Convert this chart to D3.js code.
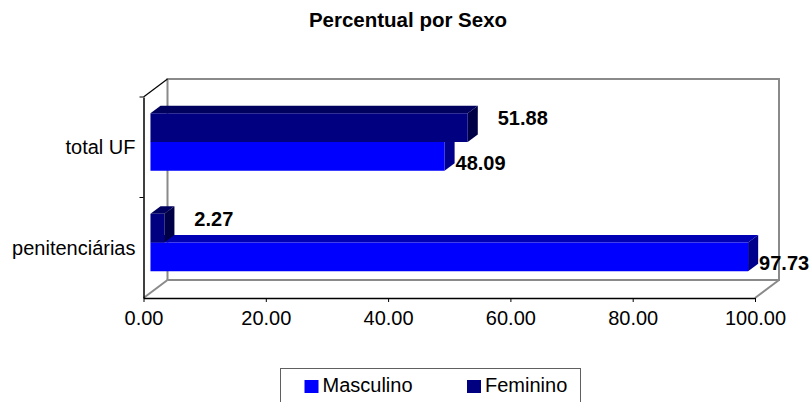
<!DOCTYPE html>
<html>
<head>
<meta charset="utf-8">
<script src="https://cdn.jsdelivr.net/npm/d3@7"></script>
<style>
  body { margin: 0; background: #fff; }
  svg { display: block; font-family: "Liberation Sans", Arial, sans-serif; }
</style>
</head>
<body>
<div id="chart"></div>
<script>
// data
const categories = ["penitenciárias", "total UF"];   // bottom to top
const seriesNames = ["Masculino", "Feminino"];
const masculino = [97.73, 48.09];
const feminino = [2.27, 51.88];
const xTicks = [0, 20, 40, 60, 80, 100];

const width = 812, height = 402;
const plot = { left: 143.5, right: 755, top: 97, bottom: 298 };
const depth = { dx: 24, dy: -18 };     // wall depth offset
const barFront = 0.29, barBack = 0.71;  // bar depth inside the wall

const faces = {
  Masculino: { front: "#0000ff", top: "#0000b4", side: "#00008c" },
  Feminino:  { front: "#000080", top: "#00005e", side: "#000046" }
};

const svg = d3.select("#chart").append("svg")
  .attr("width", width)
  .attr("height", height);

const x = d3.scaleLinear().domain([0, 100]).range([plot.left, plot.right]);
const y = d3.scaleBand().domain(categories).range([plot.bottom, plot.top]);
const yInner = d3.scaleBand().domain(["Feminino", "Masculino"])
  .range([0, y.bandwidth()]).paddingInner(0).paddingOuter(0.75);

const proj = (px, py, f) => [px + f * depth.dx, py + f * depth.dy];

/* title */
svg.append("text")
  .attr("x", 408).attr("y", 27)
  .attr("text-anchor", "middle")
  .style("font-size", "20.5px").style("font-weight", "bold")
  .text("Percentual por Sexo");

/* walls */
const wall = svg.append("g").attr("fill", "none").attr("stroke", "#8a8a8a").attr("stroke-width", 2);
const bl = proj(plot.left, plot.bottom, 1), tl = proj(plot.left, plot.top, 1);
const br = proj(plot.right, plot.bottom, 1), tr = proj(plot.right, plot.top, 1);
wall.append("path").attr("d", d3.line()([bl, tl, tr, br, bl]));
wall.append("path").attr("d", d3.line()([[plot.left, plot.bottom], bl]));
wall.append("path").attr("d", d3.line()([[plot.right, plot.bottom], br]));

/* bars */
const rows = [];
categories.forEach((c, i) => {
  rows.push({ cat: c, name: "Masculino", value: masculino[i] });
  rows.push({ cat: c, name: "Feminino", value: feminino[i] });
});

const bars = svg.append("g").selectAll("g").data(rows).enter().append("g");
bars.each(function(d) {
  const g = d3.select(this);
  const c = faces[d.name];
  const yTop = y(d.cat) + yInner(d.name);
  const yBot = yTop + yInner.bandwidth();
  const x0 = x(0), x1 = x(d.value);
  const a = proj(x0, yTop, barFront), b = proj(x1, yTop, barFront);
  const cc = proj(x1, yBot, barFront), e = proj(x0, yBot, barFront);
  const a2 = proj(x0, yTop, barBack), b2 = proj(x1, yTop, barBack), c2 = proj(x1, yBot, barBack);
  g.append("path").attr("d", d3.line()([a, b, b2, a2]) + "Z").attr("fill", c.top);
  g.append("path").attr("d", d3.line()([b, cc, c2, b2]) + "Z").attr("fill", c.side);
  g.append("path").attr("d", d3.line()([a, b, cc, e]) + "Z").attr("fill", c.front);
  d.xEnd = b[0]; d.yTop = a[1]; d.yBot = e[1];
});

/* value labels */
svg.append("g").selectAll("text").data(rows).enter().append("text")
  .attr("x", d => d.name === "Feminino" ? d.xEnd + 30 : d.xEnd + 11)
  .attr("y", d => d.name === "Feminino" ? d.yTop + 12 : d.yBot - 1)
  .style("font-size", "20px").style("font-weight", "bold")
  .text(d => d3.format(".2f")(d.value));

/* axes */
const xAxis = d3.axisBottom(x).tickValues(xTicks).tickFormat(d3.format(".2f")).tickSize(4).tickSizeOuter(0);
const gx = svg.append("g").attr("transform", `translate(0,${plot.bottom})`).call(xAxis);
gx.select(".domain").attr("stroke", "#000").attr("stroke-width", 1.5);
gx.selectAll(".tick line").attr("stroke", "#000");
gx.selectAll(".tick text").attr("dy", 0).attr("y", 27)
  .style("font-size", "20px").style("font-family", "Liberation Sans, Arial, sans-serif").attr("fill", "#000");

const yAxis = d3.axisLeft(y).tickValues([]).tickSizeOuter(0);
const gy = svg.append("g").attr("transform", `translate(${plot.left},0)`).call(yAxis);
gy.select(".domain").attr("stroke", "#000").attr("stroke-width", 1.5);
// category separators
gy.selectAll(".sep").data([y(categories[0]), y(categories[1])]).enter().append("line")
  .attr("x1", -4).attr("x2", 0).attr("y1", d => d).attr("y2", d => d).attr("stroke", "#000");
svg.append("path").attr("d", d3.line()([[plot.left, plot.top], tl]))
  .attr("stroke", "#000").attr("stroke-width", 1.2);

svg.append("g").selectAll("text").data(categories).enter().append("text")
  .attr("x", plot.left - 8)
  .attr("y", d => y(d) + y.bandwidth() / 2 + 7)
  .attr("text-anchor", "end")
  .style("font-size", "20px")
  .text(d => d);

/* legend */
const legend = svg.append("g");
legend.append("rect")
  .attr("x", 280.5).attr("y", 368.5).attr("width", 300).attr("height", 40)
  .attr("fill", "#fff").attr("stroke", "#606060").attr("stroke-width", 1);
const items = legend.selectAll("g").data(seriesNames).enter().append("g")
  .attr("transform", (d, i) => `translate(${i === 0 ? 304.5 : 467},0)`);
items.append("rect").attr("x", 0).attr("y", 380).attr("width", 14).attr("height", 13)
  .attr("fill", d => faces[d].front);
items.append("text").attr("x", 18).attr("y", 392)
  .style("font-size", "20px")
  .text(d => d);
</script>
</body>
</html>
